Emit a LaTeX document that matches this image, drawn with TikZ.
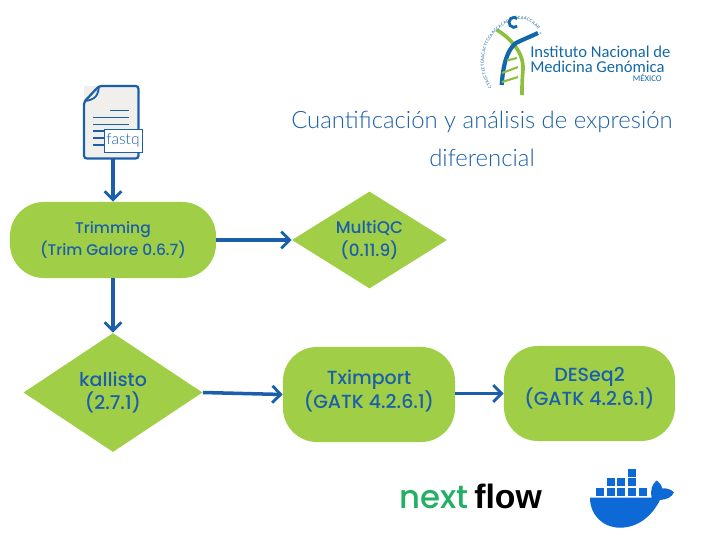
\documentclass[tikz,border=0pt]{standalone}
\usepackage{fontspec}
\usepackage{xcolor}
\usetikzlibrary{shapes.geometric,arrows.meta,decorations.text}
\setmainfont{Poppins Medium}
\newfontfamily\titlefont{Lato Light}
\newfontfamily\logofont{Carlito}
\newfontfamily\flowfont{Liberation Sans}
\definecolor{flowgreen}{HTML}{A0CF47}
\definecolor{flowblue}{HTML}{1B5FAB}
\definecolor{docgray}{HTML}{F0EFEB}
\definecolor{nfgreen}{HTML}{24B064}
\definecolor{whaleblue}{HTML}{0C69D6}
\definecolor{logogreen}{HTML}{8DBF3F}
\definecolor{logoblue}{HTML}{1368A8}
\tikzset{
  stepbox/.style={fill=flowgreen,rounded corners=0.85cm,text=flowblue,align=center,inner sep=0pt},
  toolbox/.style={diamond,fill=flowgreen,text=flowblue,align=center,inner sep=0pt,aspect=1.6},
  flowarrow/.style={->,draw=flowblue,line width=2.5pt},
  crate/.style={fill=whaleblue,minimum size=0.2cm,inner sep=0pt}
}
\begin{document}
\begin{tikzpicture}[x=0.025cm,y=-0.025cm,>={Straight Barb[length=6pt,width=12pt,line width=2pt]}]
  \useasboundingbox (0,0) rectangle (719,539);
  % input file
  \fill[docgray] (84,85.5) rectangle (139,159);
  \draw[flowblue,line width=1.6pt,rounded corners=2pt]
    (84,102) -- (99,86) -- (138.5,86) -- (138.5,158.5) -- (84,158.5) -- cycle;
  \draw[flowblue,line width=1.3pt] (84.5,101) .. controls (92,100) and (98,99) .. (99,86);
  \foreach \yy/\xa in {110.7/110,117.7/93,124.3/93,131/93,138/93,145/93}
    \draw[flowblue,line width=1.1pt] (\xa,\yy) -- (129,\yy);
  \node[minimum width=1.3cm,minimum height=1.825cm,inner sep=0pt] (fastqdoc) at (113,122) {};
  \node[draw=flowblue,fill=white,text=flowblue,line width=0.6pt,inner sep=0pt,minimum width=0.95cm,minimum height=0.575cm,font=\titlefont\fontsize{11}{11}\selectfont] (fastqtag) at (123,140.5) {fastq};
  % workflow
  \node[stepbox,minimum width=5.15cm,minimum height=1.9cm,font=\fontsize{11}{15.5}\selectfont] (trimming) at (113,240) {Trimming\\(Trim Galore 0.6.7)};
  \node[toolbox,minimum width=3.875cm,minimum height=2.425cm,font=\fontsize{12}{16}\selectfont] (multiqc) at (369.5,240) {MultiQC\\(0.11.9)};
  \node[toolbox,minimum width=4.475cm,minimum height=2.975cm,font=\fontsize{13.5}{16.5}\selectfont] (kallisto) at (113,392.5) {kallisto\\(2.7.1)};
  \node[stepbox,minimum width=4.3cm,minimum height=2.375cm,font=\fontsize{13.5}{15.5}\selectfont,text depth=8pt] (tximport) at (369,394.5) {Tximport\\(GATK 4.2.6.1)};
  \node[stepbox,minimum width=4.275cm,minimum height=2.375cm,font=\fontsize{13.5}{16}\selectfont,text depth=10pt] (deseq) at (589.5,393.5) {DESeq2\\(GATK 4.2.6.1)};
  \draw[flowarrow] (fastqdoc.south) -- (trimming.north);
  \draw[flowarrow] (trimming.east) -- (multiqc.west);
  \draw[flowarrow] (trimming.south) -- (kallisto.north);
  \draw[flowarrow] (kallisto.east) -- (tximport.west);
  \draw[flowarrow] (tximport.east |- deseq.west) -- (deseq.west);
  % title
  \node[text=flowblue,align=center,font=\titlefont\fontsize{17}{26.5}\selectfont] (title) at (482,139) {Cuantificación y análisis de expresión\\diferencial};
  % institute logo
  \draw[logogreen,line width=2.6pt] (497,30) .. controls (510,38) and (524,52) .. (523,70) .. controls (522,80) and (522,88) .. (522,95);
  \draw[logoblue,line width=3pt] (501.7,85) .. controls (503,65) and (507,50) .. (516,43) .. controls (524,39) and (532,36) .. (538,33);
  \foreach \xa/\ya/\xb/\yb in {507/60.5/517/58,502/73/518/67,502/82/518/77}
    \draw[logogreen,line width=1.5pt] (\xa,\ya) -- (\xb,\yb);
  \draw[logoblue,line width=2pt] (517.2,26.2) arc[start angle=310,end angle=50,radius=0.125cm];
  \path[decorate,decoration={text along path,text={|\logofont\fontsize{3.4}{4}\selectfont\color{logoblue}|CTACCTCCTCAACACTTCCAAGCACACCACCAACCAAR},text align={fit to path}}]
    (492,87) .. controls (476,65) and (484,30) .. (515,20) .. controls (525,18) and (533,23) .. (538,29);
  \node[text=logoblue,inner sep=0pt,font=\logofont\fontsize{4}{4}\selectfont] (registered) at (541,35) {®};
  \node[text=logoblue,anchor=base west,inner sep=0pt,font=\logofont\fontsize{11.8}{12}\selectfont] (instituto) at (530,57) {Instituto Nacional de};
  \node[text=logoblue,anchor=base west,inner sep=0pt,font=\logofont\fontsize{11.8}{12}\selectfont] (medicina) at (530,72) {Medicina Genómica};
  \node[text=logoblue,anchor=base east,inner sep=0pt,font=\logofont\fontsize{6.2}{6}\selectfont] (mexico) at (662,81) {MÉXICO};
  % nextflow
  \node[text=nfgreen,anchor=base west,inner sep=0pt,font=\fontsize{23}{23}\selectfont] (next) at (399,508) {next};
  \node[text=black,anchor=base west,inner sep=0pt,font=\flowfont\bfseries\fontsize{24}{24}\selectfont] (flow) at (474,508) {flow};
  % docker
  \foreach \xx/\yy in {600/492,610.7/492,621.3/492,632/492,642.7/492,610.7/482,621.3/482,632/482,632/472.5}
    \node[crate] at (\xx,\yy) {};
  \fill[whaleblue] (590,497.7) -- (651.7,497.7) .. controls (650,490) and (652,484) .. (656.7,480.5)
    .. controls (660,483) and (662,486) .. (662,488.3) .. controls (667,488) and (671,489.5) .. (674,492.3)
    .. controls (672,497) and (667,499.5) .. (660,500) .. controls (652,516) and (638,527.7) .. (620,527.7)
    .. controls (603,527.7) and (590,515) .. (590,497.7) -- cycle;
\end{tikzpicture}
\end{document}
